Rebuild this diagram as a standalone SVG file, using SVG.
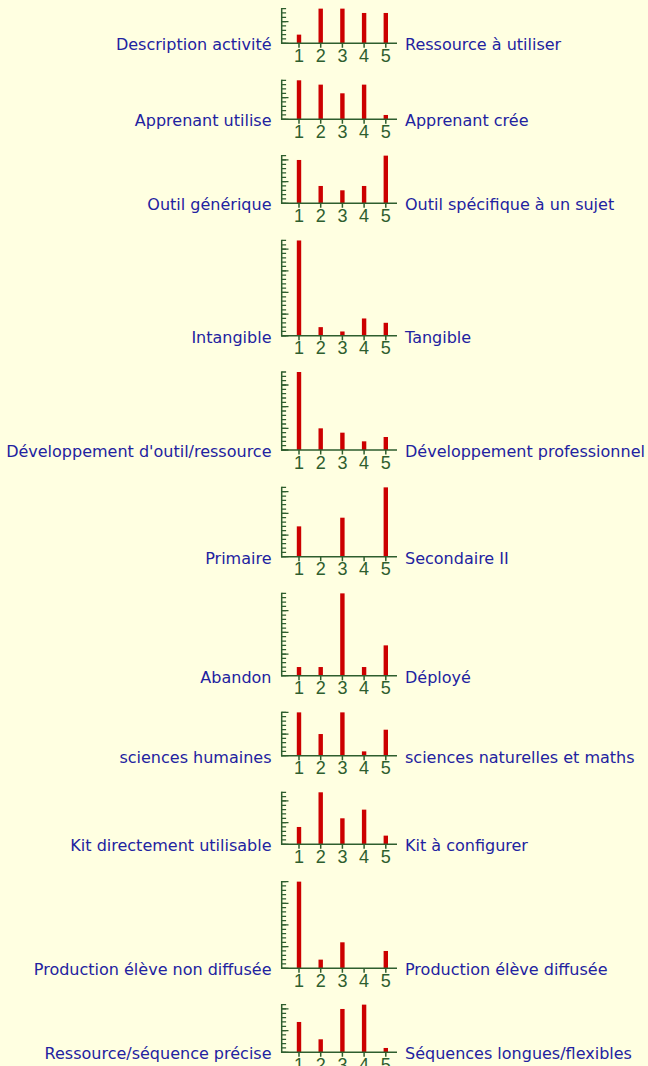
<svg xmlns="http://www.w3.org/2000/svg" width="648" height="1066" viewBox="0 0 648 1066">
<style>
.lbl{font-family:"DejaVu Sans",Verdana,sans-serif;font-size:16px;fill:#2222a0}
.l{text-anchor:end}
.num{font-family:"Liberation Sans",Arial,sans-serif;font-size:18px;fill:#2e5e2e;text-anchor:middle}
.ax{stroke:#2e5e2e;stroke-width:1.5;fill:none}
.mn{stroke:#2e5e2e;stroke-width:4.4;stroke-dasharray:1.3 3.0333;fill:none}
.mj{stroke:#2e5e2e;stroke-width:6.8;stroke-dasharray:1.3 20.3667;fill:none}
.bar{fill:#cc0000}
</style>
<defs>
<g id="xaxis">
<path class="ax" d="M281,0H397M299,0v4.5M320.7,0v4.5M342.4,0v4.5M364.1,0v4.5M385.8,0v4.5"/>
<text class="num" x="299" y="18.5">1</text>
<text class="num" x="320.7" y="18.5">2</text>
<text class="num" x="342.4" y="18.5">3</text>
<text class="num" x="364.1" y="18.5">4</text>
<text class="num" x="385.8" y="18.5">5</text>
</g>
</defs>
<rect width="648" height="1066" fill="#ffffe1"/>

<g id="chart1" transform="translate(0,43.3)">
<path class="mn" d="M283.9,0.65V-35.32"/><path class="mj" d="M285.1,0.65V-35.32"/>
<path class="ax" d="M281.7,0.7V-35.3"/>
<rect class="bar" x="296.8" y="-8.667" width="4.4" height="8.667"/>
<rect class="bar" x="318.5" y="-34.667" width="4.4" height="34.667"/>
<rect class="bar" x="340.2" y="-34.667" width="4.4" height="34.667"/>
<rect class="bar" x="361.9" y="-30.333" width="4.4" height="30.333"/>
<rect class="bar" x="383.6" y="-30.333" width="4.4" height="30.333"/>
<use href="#xaxis"/>
<text class="lbl l" x="271.5" y="7">Description activité</text>
<text class="lbl" x="405" y="7">Ressource à utiliser</text>
</g>

<g id="chart2" transform="translate(0,119.3)">
<path class="mn" d="M283.9,0.65V-39.65"/><path class="mj" d="M285.1,0.65V-39.65"/>
<path class="ax" d="M281.7,0.7V-39.65"/>
<rect class="bar" x="296.8" y="-39" width="4.4" height="39"/>
<rect class="bar" x="318.5" y="-34.667" width="4.4" height="34.667"/>
<rect class="bar" x="340.2" y="-26" width="4.4" height="26"/>
<rect class="bar" x="361.9" y="-34.667" width="4.4" height="34.667"/>
<rect class="bar" x="383.6" y="-4.333" width="4.4" height="4.333"/>
<use href="#xaxis"/>
<text class="lbl l" x="271.5" y="7">Apprenant utilise</text>
<text class="lbl" x="405" y="7">Apprenant crée</text>
</g>

<g id="chart3" transform="translate(0,203.3)">
<path class="mn" d="M283.9,0.65V-48.32"/><path class="mj" d="M285.1,0.65V-48.32"/>
<path class="ax" d="M281.7,0.7V-48.32"/>
<rect class="bar" x="296.8" y="-43.333" width="4.4" height="43.333"/>
<rect class="bar" x="318.5" y="-17.333" width="4.4" height="17.333"/>
<rect class="bar" x="340.2" y="-13" width="4.4" height="13"/>
<rect class="bar" x="361.9" y="-17.333" width="4.4" height="17.333"/>
<rect class="bar" x="383.6" y="-47.667" width="4.4" height="47.667"/>
<use href="#xaxis"/>
<text class="lbl l" x="271.5" y="7">Outil générique</text>
<text class="lbl" x="405" y="7">Outil spécifique à un sujet</text>
</g>

<g id="chart4" transform="translate(0,335.8)">
<path class="mn" d="M283.9,0.65V-95.98"/><path class="mj" d="M285.1,0.65V-95.98"/>
<path class="ax" d="M281.7,0.7V-95.98"/>
<rect class="bar" x="296.8" y="-95.333" width="4.4" height="95.333"/>
<rect class="bar" x="318.5" y="-8.667" width="4.4" height="8.667"/>
<rect class="bar" x="340.2" y="-4.333" width="4.4" height="4.333"/>
<rect class="bar" x="361.9" y="-17.333" width="4.4" height="17.333"/>
<rect class="bar" x="383.6" y="-13" width="4.4" height="13"/>
<use href="#xaxis"/>
<text class="lbl l" x="271.5" y="7">Intangible</text>
<text class="lbl" x="405" y="7">Tangible</text>
</g>

<g id="chart5" transform="translate(0,450)">
<path class="mn" d="M283.9,0.65V-78.65"/><path class="mj" d="M285.1,0.65V-78.65"/>
<path class="ax" d="M281.7,0.7V-78.65"/>
<rect class="bar" x="296.8" y="-78" width="4.4" height="78"/>
<rect class="bar" x="318.5" y="-21.667" width="4.4" height="21.667"/>
<rect class="bar" x="340.2" y="-17.333" width="4.4" height="17.333"/>
<rect class="bar" x="361.9" y="-8.667" width="4.4" height="8.667"/>
<rect class="bar" x="383.6" y="-13" width="4.4" height="13"/>
<use href="#xaxis"/>
<text class="lbl l" x="271.5" y="7">Développement d'outil/ressource</text>
<text class="lbl" x="405" y="7">Développement professionnel</text>
</g>

<g id="chart6" transform="translate(0,556.7)">
<path class="mn" d="M283.9,0.65V-69.98"/><path class="mj" d="M285.1,0.65V-69.98"/>
<path class="ax" d="M281.7,0.7V-69.98"/>
<rect class="bar" x="296.8" y="-30.333" width="4.4" height="30.333"/>
<rect class="bar" x="340.2" y="-39" width="4.4" height="39"/>
<rect class="bar" x="383.6" y="-69.333" width="4.4" height="69.333"/>
<use href="#xaxis"/>
<text class="lbl l" x="271.5" y="7">Primaire</text>
<text class="lbl" x="405" y="7">Secondaire II</text>
</g>

<g id="chart7" transform="translate(0,675.7)">
<path class="mn" d="M283.9,0.65V-82.98"/><path class="mj" d="M285.1,0.65V-82.98"/>
<path class="ax" d="M281.7,0.7V-82.98"/>
<rect class="bar" x="296.8" y="-8.667" width="4.4" height="8.667"/>
<rect class="bar" x="318.5" y="-8.667" width="4.4" height="8.667"/>
<rect class="bar" x="340.2" y="-82.333" width="4.4" height="82.333"/>
<rect class="bar" x="361.9" y="-8.667" width="4.4" height="8.667"/>
<rect class="bar" x="383.6" y="-30.333" width="4.4" height="30.333"/>
<use href="#xaxis"/>
<text class="lbl l" x="271.5" y="7">Abandon</text>
<text class="lbl" x="405" y="7">Déployé</text>
</g>

<g id="chart8" transform="translate(0,755.7)">
<path class="mn" d="M283.9,0.65V-43.98"/><path class="mj" d="M285.1,0.65V-43.98"/>
<path class="ax" d="M281.7,0.7V-43.98"/>
<rect class="bar" x="296.8" y="-43.333" width="4.4" height="43.333"/>
<rect class="bar" x="318.5" y="-21.667" width="4.4" height="21.667"/>
<rect class="bar" x="340.2" y="-43.333" width="4.4" height="43.333"/>
<rect class="bar" x="361.9" y="-4.333" width="4.4" height="4.333"/>
<rect class="bar" x="383.6" y="-26" width="4.4" height="26"/>
<use href="#xaxis"/>
<text class="lbl l" x="271.5" y="7">sciences humaines</text>
<text class="lbl" x="405" y="7">sciences naturelles et maths</text>
</g>

<g id="chart9" transform="translate(0,844.3)">
<path class="mn" d="M283.9,0.65V-52.65"/><path class="mj" d="M285.1,0.65V-52.65"/>
<path class="ax" d="M281.7,0.7V-52.65"/>
<rect class="bar" x="296.8" y="-17.333" width="4.4" height="17.333"/>
<rect class="bar" x="318.5" y="-52" width="4.4" height="52"/>
<rect class="bar" x="340.2" y="-26" width="4.4" height="26"/>
<rect class="bar" x="361.9" y="-34.667" width="4.4" height="34.667"/>
<rect class="bar" x="383.6" y="-8.667" width="4.4" height="8.667"/>
<use href="#xaxis"/>
<text class="lbl l" x="271.5" y="7">Kit directement utilisable</text>
<text class="lbl" x="405" y="7">Kit à configurer</text>
</g>

<g id="chart10" transform="translate(0,968.3)">
<path class="mn" d="M283.9,0.65V-87.32"/><path class="mj" d="M285.1,0.65V-87.32"/>
<path class="ax" d="M281.7,0.7V-87.32"/>
<rect class="bar" x="296.8" y="-86.667" width="4.4" height="86.667"/>
<rect class="bar" x="318.5" y="-8.667" width="4.4" height="8.667"/>
<rect class="bar" x="340.2" y="-26" width="4.4" height="26"/>
<rect class="bar" x="383.6" y="-17.333" width="4.4" height="17.333"/>
<use href="#xaxis"/>
<text class="lbl l" x="271.5" y="7">Production élève non diffusée</text>
<text class="lbl" x="405" y="7">Production élève diffusée</text>
</g>

<g id="chart11" transform="translate(0,1052.3)">
<path class="mn" d="M283.9,0.65V-48.32"/><path class="mj" d="M285.1,0.65V-48.32"/>
<path class="ax" d="M281.7,0.7V-48.32"/>
<rect class="bar" x="296.8" y="-30.333" width="4.4" height="30.333"/>
<rect class="bar" x="318.5" y="-13" width="4.4" height="13"/>
<rect class="bar" x="340.2" y="-43.333" width="4.4" height="43.333"/>
<rect class="bar" x="361.9" y="-47.667" width="4.4" height="47.667"/>
<rect class="bar" x="383.6" y="-4.333" width="4.4" height="4.333"/>
<use href="#xaxis"/>
<text class="lbl l" x="271.5" y="7">Ressource/séquence précise</text>
<text class="lbl" x="405" y="7">Séquences longues/flexibles</text>
</g>
</svg>
